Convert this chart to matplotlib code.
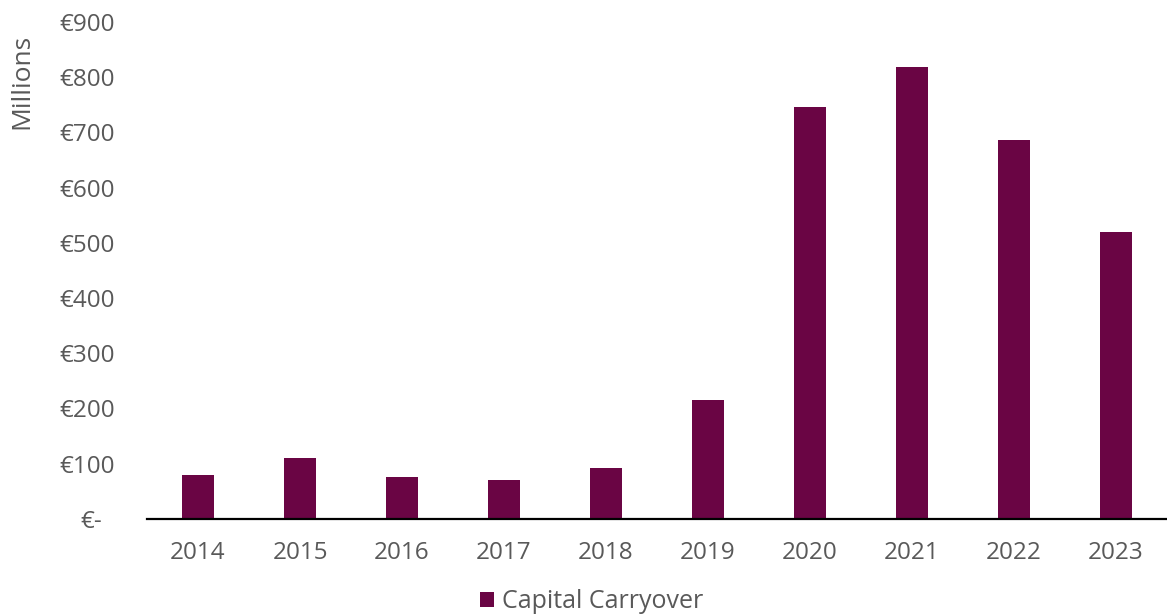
import matplotlib.pyplot as plt
from matplotlib.ticker import FuncFormatter
from matplotlib.transforms import ScaledTranslation

years = ["2014", "2015", "2016", "2017", "2018", "2019", "2020", "2021", "2022", "2023"]
carryover = [79, 111, 76, 70, 93, 215, 746, 818, 686, 519]  # € millions

plt.rcParams['font.family'] = ['Open Sans', 'DejaVu Sans']
grey = '#595959'
bar_color = '#6A0544'

fig = plt.figure(figsize=(11.67, 6.14), dpi=100)
ax = fig.add_axes([0.126, 0.155, 0.874, 0.809])

ax.bar(years, carryover, width=0.31, color=bar_color, label="Capital Carryover")

ax.set_ylim(0, 900)
ax.set_xlim(-0.5, len(years) - 0.5)
ax.set_yticks(range(0, 901, 100))
ax.yaxis.set_major_formatter(FuncFormatter(lambda v, p: "€-" if v == 0 else f"€{v:.0f}"))

for s in ["top", "right", "left"]:
    ax.spines[s].set_visible(False)
ax.spines["bottom"].set_linewidth(1.6)
ax.spines["bottom"].set_color("black")

ax.tick_params(axis="both", length=0, labelsize=17.5, labelcolor=grey)
ax.tick_params(axis="y", pad=23)
ax.tick_params(axis="x", pad=16)

# nudge the zero label like an accounting format
zero_lbl = ax.get_yticklabels()[0]
zero_lbl.set_transform(zero_lbl.get_transform() + ScaledTranslation(-9 / 72, 0, fig.dpi_scale_trans))

fig.text(0.019, 0.868, "Millions", rotation=90, ha="center", va="center", fontsize=19, color=grey)

fig.legend(loc="center", bbox_to_anchor=(0.507, 0.02), frameon=False, fontsize=18,
           labelcolor=grey, handlelength=0.55, handleheight=0.55, handletextpad=0.3)

fig.savefig("out.png", dpi=100)
